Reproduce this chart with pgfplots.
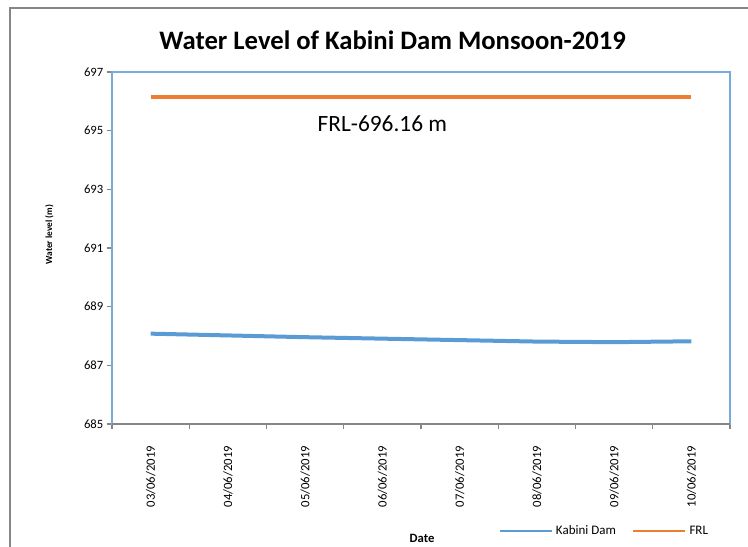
\documentclass[border=0pt]{standalone}
\usepackage{fontspec}
\setmainfont{Carlito}
\usepackage{pgfplots}
\pgfplotsset{compat=1.18}
\definecolor{kabini}{RGB}{91,155,213}
\definecolor{frl}{RGB}{237,125,49}
\definecolor{frame}{RGB}{120,170,220}
\definecolor{axgray}{RGB}{134,134,134}
\begin{document}
\begin{tikzpicture}
\useasboundingbox (0,0) rectangle (561pt,-409.5pt);
\draw[axgray, line width=1.5pt] (7.5pt,-6pt) rectangle (590pt,-440pt);
\begin{axis}[
  at={(84pt,-318pt)}, anchor=south west,
  width=463.5pt, height=264pt, scale only axis,
  xmin=-0.5, xmax=7.5, ymin=685, ymax=697,
  xtick={0,...,7},
  xticklabels={03/06/2019,04/06/2019,05/06/2019,06/06/2019,07/06/2019,08/06/2019,09/06/2019,10/06/2019},
  minor xtick={-0.5,0.5,...,7.5},
  major x tick style={draw=none},
  minor x tick style={draw=axgray, line width=0.8pt},
  minor tick length=4pt,
  ytick={685,687,...,697},
  y tick style={draw=axgray, line width=0.8pt},
  major tick length=4pt,
  tick align=outside,
  tick pos=left,
  axis line style={draw=frame, line width=1pt},
  xticklabel style={yshift=-9pt, rotate=90, anchor=east, font=\fontsize{9.5}{11}\selectfont},
  yticklabel style={xshift=1pt, font=\fontsize{9.5}{11}\selectfont},
  /pgf/number format/assume math mode=true,
  /pgf/number format/1000 sep={},
  legend columns=2,
  legend style={at={(0.797,-0.304)}, anchor=center, draw=none, font=\fontsize{9.75}{11}\selectfont, /tikz/every even column/.append style={column sep=10pt}},
  legend image code/.code={\draw[#1, line width=2.2pt] (0pt,0pt) -- (39pt,0pt);},
  clip=false,
]
\addplot[kabini, line width=3pt] coordinates {(0,688.08) (1,688.02) (2,687.96) (3,687.91) (4,687.86) (5,687.81) (6,687.79) (7,687.82)};
\addlegendentry{Kabini Dam}
\addplot[frl, line width=3pt] coordinates {(0,696.16) (1,696.16) (2,696.16) (3,696.16) (4,696.16) (5,696.16) (6,696.16) (7,696.16)};
\addlegendentry{FRL}
\draw[axgray, line width=1.2pt] (axis cs:-0.5,685) -- (axis cs:7.5,685);
\node[font=\fontsize{17.5}{20}\selectfont] at (axis cs:3.0,695.23) {FRL-696.16 m};
\end{axis}
\node[font=\bfseries\fontsize{20}{24}\selectfont] at (294.5pt,-30pt) {Water Level of Kabini Dam Monsoon-2019};
\node[font=\bfseries\fontsize{7}{8}\selectfont, rotate=90] at (37pt,-176pt) {Water level (m)};
\node[font=\bfseries\fontsize{9.5}{11}\selectfont] at (316.5pt,-403.5pt) {Date};
\end{tikzpicture}
\end{document}
